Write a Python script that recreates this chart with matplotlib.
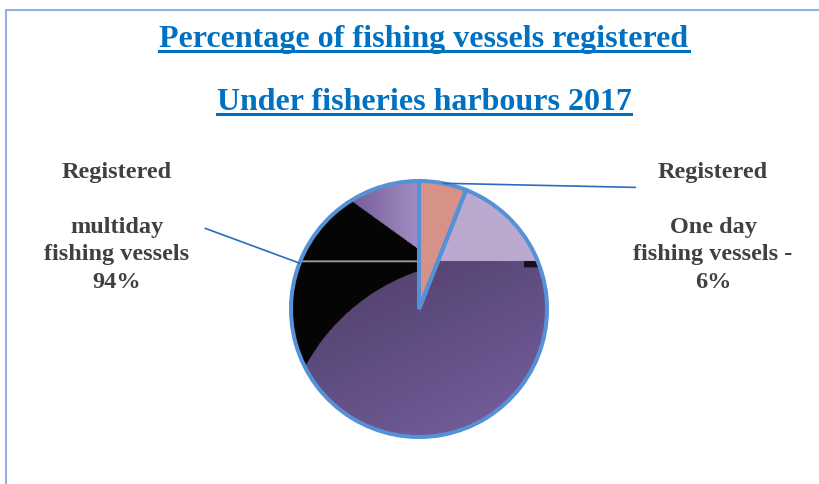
import numpy as np
import matplotlib
matplotlib.use("Agg")
import matplotlib.pyplot as plt
from matplotlib.patches import Rectangle
from matplotlib.lines import Line2D

# data
labels = ["Registered One day fishing vessels", "Registered multiday fishing vessels"]
shares = [6, 94]
slice_colors = ["#D69289", "none"]
title_lines = ["Percentage of fishing vessels registered", "Under fisheries harbours 2017"]
left_label = ["Registered", "", "multiday", "fishing vessels", f"{shares[1]}%"]
right_label = ["Registered", "", "One day", "fishing vessels -", f"{shares[0]}%"]

W, H = 819, 485
fig = plt.figure(figsize=(W / 100, H / 100), dpi=100)
fig.patch.set_facecolor("white")

# outer chart frame (runs off the right/bottom edge like the screenshot)
fig.add_artist(Rectangle((6 / W, -0.1), 1.2, (H - 11) / H + 0.1, transform=fig.transFigure,
                         fill=False, edgecolor="#8DB3E2", lw=1.5))

# pie axes: centre (419, 310) px, radius 128 px
cx, cy, R = 419, 310, 128
ax = fig.add_axes([(cx - R) / W, (H - cy - R) / H, 2 * R / W, 2 * R / H])

wedges, _ = ax.pie(shares, startangle=90, counterclock=False, colors=slice_colors,
                   radius=1, wedgeprops=dict(edgecolor="#5691D8", linewidth=2.9))
ax.axis("off")
for w in wedges:
    w.set_clip_on(False)
    w.set_zorder(3)

# picture-like texture that fills the big slice
n = 400
u, v = np.meshgrid(np.linspace(-1, 1, n), np.linspace(1, -1, n))
def hexrgb(h):
    return np.array([int(h[i:i + 2], 16) / 255 for i in (1, 3, 5)])
img = np.zeros((n, n, 3))
t = np.clip(((0.375 - v) * 0.7 + (u + 1) * 0.35) / 1.7, 0, 1)[..., None]
img[:] = hexrgb("#4D3C66") * (1 - t) + hexrgb("#7862A2") * t
line_v = 0.375
lav = (v > line_v) & (u > 0)
img[lav] = hexrgb("#BBA9CF")
notch = (u > 0.82) & (v <= line_v) & (v > line_v - 0.05)
img[notch] = hexrgb("#151020")
upper = 0.48 - 0.72 * (u + 0.02)
top_left = (u <= 0) & (v > upper)
s = np.clip((u + 0.6) / 0.6, 0, 1)[..., None]
tl_col = hexrgb("#6E5894") * (1 - s) + hexrgb("#A48DC3") * s
img[top_left] = tl_col[top_left]
black = (u <= 0) & (v <= upper) & (np.hypot(u - 0.5, v + 1.2) > 1.58)
img[black] = 0.02
grey = (u <= 0) & (np.abs(v - line_v) < 0.008)
img[grey] = hexrgb("#9A9A9A")
im = ax.imshow(img, extent=(-1, 1, -1, 1), zorder=1)
im.set_clip_path(wedges[1])
wedges[0].set_zorder(2)
ax.set_xlim(-1, 1)
ax.set_ylim(-1, 1)
ax.set_aspect("equal")

# leader lines
lead_col = "#2A6DBE"
a1 = np.deg2rad(90 - shares[0] / 200 * 360)
ax.annotate("", xy=(np.cos(a1), np.sin(a1)), xytext=(1.69, 0.95),
            arrowprops=dict(arrowstyle="-", color=lead_col, lw=1.2,
                            shrinkA=0, shrinkB=0), annotation_clip=False, zorder=4)
a2 = np.deg2rad(159)
ax.annotate("", xy=(np.cos(a2), np.sin(a2)), xytext=(-1.67, 0.63),
            arrowprops=dict(arrowstyle="-", color=lead_col, lw=1.2,
                            shrinkA=0, shrinkB=0), annotation_clip=False, zorder=4)

# labels, one baseline per line
lab = dict(family="Liberation Serif", weight="bold", size=17.5, color="#404040",
           ha="center", va="baseline")
base = [178, 205, 233, 260, 288]
for x, lines in ((117, left_label), (713, right_label)):
    for ln, yb in zip(lines, base):
        if ln:
            fig.text(x / W, 1 - yb / H, ln, **lab)

# underlined title
title_col = "#0070C0"
titles = []
for txt, yb in zip(title_lines, [47, 110]):
    titles.append(fig.text(424 / W, 1 - yb / H, txt, ha="center", va="baseline",
                           family="Liberation Serif", weight="bold", size=23,
                           color=title_col))
fig.canvas.draw()
r = fig.canvas.get_renderer()
for tx, yb in zip(titles, [47, 110]):
    bb = tx.get_window_extent(r)
    yy = H - yb - 5
    fig.add_artist(Line2D([bb.x0 / W, bb.x1 / W], [yy / H, yy / H],
                          transform=fig.transFigure, color=title_col, lw=2.2))

fig.savefig("out.png", dpi=100)
